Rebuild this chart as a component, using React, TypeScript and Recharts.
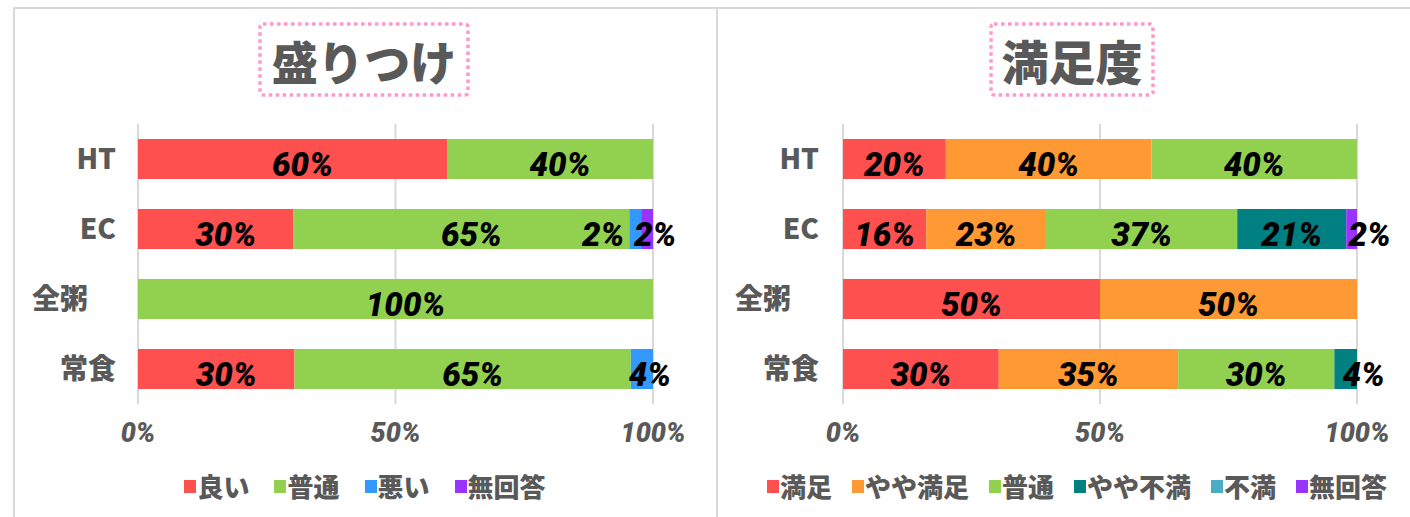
import React from "react";
import { BarChart, Bar, XAxis, YAxis, CartesianGrid, LabelList, Legend } from "recharts";

const categories = ["HT", "EC", "全粥　", "常食"];
const xTicks = [0, 50, 100];

// 盛りつけ
const moriTitle = "盛りつけ";
const moriSeries = ["良い", "普通", "悪い", "無回答"];
const moriColors = ["#FF5050", "#92D050", "#3399FF", "#9933FF"];
const moriYoi = [60, 30.2, 0, 30.4];
const moriFutsu = [40, 65.2, 100, 65.3];
const moriWarui = [0, 2.3, 0, 4.3];
const moriMukaito = [0, 2.3, 0, 0];

// 満足度
const manTitle = "満足度";
const manSeries = ["満足", "やや満足", "普通", "やや不満", "不満", "無回答"];
const manColors = ["#FF5050", "#FF9933", "#92D050", "#008080", "#4BACC6", "#9933FF"];
const manManzoku = [20, 16.2, 50, 30.3];
const manYayaManzoku = [40, 23.3, 50, 34.9];
const manFutsu = [40, 37.2, 0, 30.4];
const manYayaFuman = [0, 21.2, 0, 4.4];
const manFuman = [0, 0, 0, 0];
const manMukaito = [0, 2.1, 0, 0];

const JP = "'Noto Sans CJK JP', 'Noto Sans', sans-serif";
const NUM = "Roboto, 'Noto Sans', sans-serif";
const GRAY = "#595959";

function buildRows(series: string[], values: number[][]) {
  return categories.map((c, i) => {
    const row: any = { cat: c, row: i };
    series.forEach((s, si) => {
      row[s] = values[si][i];
    });
    return row;
  });
}

function makeLabel(values: number[][], si: number, dx: number, smallDx: number) {
  return (props: any) => {
    const vb = props.viewBox || {};
    const x = props.x ?? vb.x;
    const y = props.y ?? vb.y;
    const w = props.width ?? vb.width;
    const h = props.height ?? vb.height;
    const idx = Number(String(props.value).split("|")[0]);
    if (!(idx >= 0)) return null;
    const v = values[si][idx];
    if (!v) return null;
    let tx = x + w / 2 + (v < 5 ? smallDx : dx);
    let anchor: any = "middle";
    const next = si + 1 < values.length ? values[si + 1][idx] : 0;
    if (v < 5 && next > 0 && next < 5) {
      tx = x - 5;
      anchor = "end";
    }
    return (
      <text
        x={tx}
        y={y + h / 2 + 5}
        textAnchor={anchor}
        dominantBaseline="central"
        fill="#000"
        fontFamily={NUM}
        fontWeight={900}
        fontStyle="italic"
        fontSize={33}
      >
        {`${Math.round(v)}%`}
      </text>
    );
  };
}

function LegendRow({ series, colors, gap }: { series: string[]; colors: string[]; gap: number }) {
  return (
    <div style={{ display: "flex", justifyContent: "center", alignItems: "center", gap }}>
      {series.map((s, i) => (
        <div key={s} style={{ display: "flex", alignItems: "center" }}>
          <span style={{ display: "inline-block", width: 12, height: 13, background: colors[i], marginRight: 1 }} />
          <span style={{ fontFamily: JP, fontWeight: 900, fontSize: 26, color: GRAY, lineHeight: "30px" }}>{s}</span>
        </div>
      ))}
    </div>
  );
}

function Panel(props: {
  title: string;
  series: string[];
  colors: string[];
  values: number[][];
  width: number;
  yAxisWidth: number;
  rightMargin: number;
  tickMargin: number;
  labelDx: number;
  smallDx: number;
  legendGap: number;
}) {
  const { series, colors, values, width, yAxisWidth, rightMargin, tickMargin, labelDx, smallDx, legendGap } = props;
  const data = buildRows(series, values);
  return (
    <BarChart
      layout="vertical"
      width={width}
      height={510}
      data={data}
      margin={{ top: 117, right: rightMargin, bottom: 73, left: 0 }}
    >
      <CartesianGrid horizontal={false} stroke="#d9d9d9" strokeWidth={2} />
      <XAxis
        type="number"
        domain={[0, 100]}
        ticks={xTicks}
        tickFormatter={(v: number) => `${v}%`}
        axisLine={false}
        tickLine={false}
        tickSize={0}
        tickMargin={19}
        height={40}
        interval={0}
        tick={{ fill: GRAY, fontSize: 27, fontWeight: 900, fontStyle: "italic", fontFamily: NUM }}
      />
      <YAxis
        type="category"
        dataKey="cat"
        width={yAxisWidth}
        axisLine={false}
        tickLine={false}
        tickSize={0}
        tickMargin={tickMargin}
        interval={0}
        tick={{ fill: GRAY, fontSize: 28, fontWeight: 900, fontFamily: JP }}
      />
      <Legend
        layout="horizontal"
        align="center"
        verticalAlign="middle"
        wrapperStyle={{ top: 464, left: 0, width: width, height: 30 }}
        content={() => <LegendRow series={series} colors={colors} gap={legendGap} />}
      />
      {series.map((s, si) => (
        <Bar key={s} dataKey={s} name={s} stackId="a" fill={colors[si]} barSize={40} isAnimationActive={false}>
          <LabelList
            dataKey={(entry: any) => `${entry.row}|${entry[s]}`}
            content={makeLabel(values, si, labelDx, smallDx)}
          />
        </Bar>
      ))}
    </BarChart>
  );
}

function TitleBox({ text, left, width, fontSize }: { text: string; left: number; width: number; fontSize: number }) {
  return (
    <div style={{ position: "absolute", left, top: 22, width, height: 75 }}>
      <svg width={width} height={75} style={{ position: "absolute", left: 0, top: 0 }}>
        <rect
          x={2}
          y={2}
          width={width - 4}
          height={71}
          rx={3}
          fill="none"
          stroke="#FF99CC"
          strokeWidth={3.5}
          strokeDasharray="3.5 3.5"
        />
      </svg>
      <div
        style={{
          position: "absolute",
          left: 0,
          top: 0,
          width,
          height: 75,
          display: "flex",
          alignItems: "center",
          justifyContent: "center",
          fontFamily: JP,
          fontWeight: 900,
          fontSize,
          color: GRAY,
          lineHeight: 1,
        }}
      >
        {text}
      </div>
    </div>
  );
}

export default function App() {
  return (
    <div
      style={{
        position: "absolute",
        left: 0,
        top: 0,
        width: 1410,
        height: 517,
        overflow: "hidden",
        background: "#fff",
      }}
    >
      <div
        style={{
          position: "absolute",
          left: 13,
          top: 7,
          width: 705,
          height: 530,
          border: "2px solid #d9d9d9",
          boxSizing: "border-box",
        }}
      />
      <div
        style={{
          position: "absolute",
          left: 716,
          top: 7,
          width: 760,
          height: 530,
          border: "2px solid #d9d9d9",
          boxSizing: "border-box",
        }}
      />
      <div style={{ position: "absolute", left: 13, top: 7 }}>
        <Panel
          title={moriTitle}
          series={moriSeries}
          colors={moriColors}
          values={[moriYoi, moriFutsu, moriWarui, moriMukaito]}
          width={704}
          yAxisWidth={125}
          rightMargin={64}
          tickMargin={22}
          labelDx={10}
          smallDx={8}
          legendGap={25}
        />
      </div>
      <div style={{ position: "absolute", left: 717, top: 7 }}>
        <Panel
          title={manTitle}
          series={manSeries}
          colors={manColors}
          values={[manManzoku, manYayaManzoku, manFutsu, manYayaFuman, manFuman, manMukaito]}
          width={720}
          yAxisWidth={126}
          rightMargin={80}
          tickMargin={24}
          labelDx={0}
          smallDx={18}
          legendGap={20}
        />
      </div>
      <TitleBox text={moriTitle} left={258} width={212} fontSize={46} />
      <TitleBox text={manTitle} left={989} width={166} fontSize={47} />
    </div>
  );
}
